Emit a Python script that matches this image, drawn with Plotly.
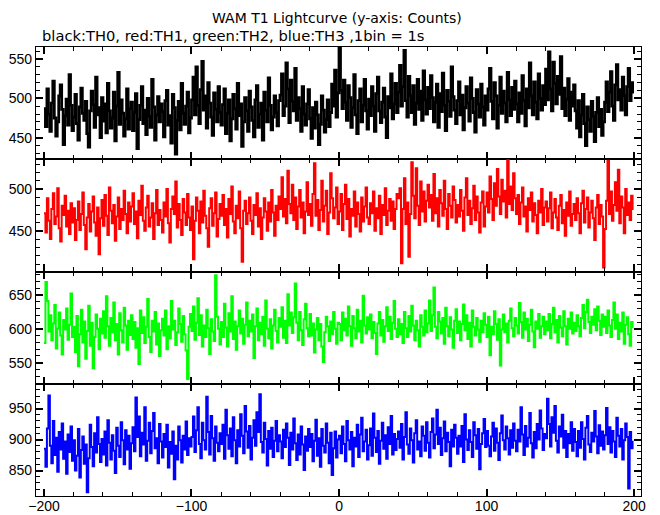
import plotly.graph_objects as go
from plotly.subplots import make_subplots

time_start = -200
n_bins = 400
time_bins = list(range(time_start, time_start + n_bins))

th0_black = [
    487, 464, 512, 480, 458, 494, 522, 475, 452, 470, 503, 517, 486, 441, 478, 499, 466, 530, 491, 459,
    476, 505, 468, 447, 489, 513, 481, 472, 496, 455, 438, 484, 509, 492, 463, 527, 479, 488, 450, 501,
    471, 493, 456, 519, 484, 462, 475, 508, 446, 490, 533, 467, 498, 481, 452, 474, 512, 461, 487, 495,
    459, 482, 506, 436, 473, 491, 515, 468, 485, 454, 500, 477, 463, 524, 489, 447, 479, 502, 470, 493,
    483, 451, 497, 510, 466, 478, 443, 505, 488, 429, 472, 496, 460, 519, 481, 467, 490, 508, 456, 475,
    498, 527, 479, 540, 491, 468, 511, 547, 485, 503, 462, 520, 494, 476, 453, 507, 486, 470, 515, 482,
    466, 492, 512, 455, 481, 498, 446, 474, 505, 487, 461, 519, 478, 493, 439, 470, 501, 484, 458, 509,
    489, 472, 451, 498, 516, 463, 480, 494, 447, 508, 485, 470, 526, 491, 460, 476, 503, 482, 465, 497,
    504, 531, 478, 490, 545, 512, 469, 523, 496, 484, 538, 472, 501, 487, 458, 515, 480, 466, 493, 511,
    474, 449, 488, 462, 495, 479, 441, 467, 503, 485, 457, 473, 498, 464, 482, 518, 490, 536, 476, 507,
    564, 510, 487, 523, 495, 472, 516, 501, 463, 488, 530, 479, 455, 497, 512, 470, 491, 524, 484, 461,
    499, 478, 515, 490, 458, 506, 527, 484, 469, 495, 513, 476, 450, 502, 488, 531, 474, 493, 519, 482,
    508, 542, 490, 515, 561, 497, 476, 528, 503, 482, 516, 467, 494, 524, 486, 509, 472, 535, 498, 480,
    514, 487, 529, 501, 470, 495, 518, 463, 506, 483, 532, 491, 459, 510, 496, 477, 540, 502, 485, 468,
    497, 521, 479, 504, 460, 488, 515, 494, 471, 526, 500, 482, 457, 511, 493, 476, 518, 489, 466, 503,
    485, 512, 538, 496, 474, 520, 503, 462, 491, 527, 481, 509, 494, 470, 533, 498, 478, 514, 486, 522,
    493, 470, 507, 481, 529, 497, 465, 512, 488, 545, 503, 479, 521, 495, 474, 531, 500, 485, 516, 492,
    537, 498, 559, 512, 484, 546, 519, 493, 528, 505, 553, 487, 513, 478, 499, 525, 472, 508, 490, 517,
    484, 462, 497, 451, 479, 505, 468, 440, 489, 473, 458, 496, 477, 445, 482, 501, 464, 486, 453, 470,
    495, 521, 483, 508, 534, 490, 472, 517, 543, 498, 511, 485, 527, 503, 479, 515, 538, 497, 520, 506,
]

th1_red = [
    471, 448, 489, 462, 440, 476, 495, 458, 467, 501, 453, 437, 480, 469, 492, 455, 474, 446, 483, 460,
    477, 439, 463, 485, 451, 470, 496, 457, 428, 466, 482, 449, 473, 491, 460, 444, 478, 422, 465, 487,
    456, 493, 468, 445, 502, 474, 459, 481, 438, 467, 490, 452, 476, 463, 498, 470, 447, 484, 461, 479,
    495, 458, 473, 441, 486, 469, 504, 462, 450, 478, 492, 455, 466, 483, 440, 471, 499, 457, 475, 463,
    448, 484, 467, 500, 459, 436, 476, 491, 470, 509, 454, 482, 463, 445, 488, 472, 457, 494, 466, 451,
    479, 416, 462, 490, 474, 447, 485, 460, 498, 468, 453, 431, 477, 489, 456, 471, 496, 443, 464, 482,
    468, 493, 457, 476, 442, 488, 470, 503, 461, 447, 480, 465, 497, 453, 413, 474, 486, 458, 471, 490,
    462, 446, 481, 469, 495, 455, 477, 440, 466, 489, 473, 450, 484, 461, 499, 472, 444, 480, 463, 491,
    476, 514, 467, 488, 459, 522, 482, 471, 505, 463, 490, 452, 479, 499, 466, 484, 447, 473, 508, 469,
    482, 456, 494, 531, 468, 487, 451, 475, 510, 461, 480, 498, 446, 472, 519, 489, 465, 478, 502, 458,
    473, 494, 451, 482, 505, 464, 488, 443, 476, 468, 497, 455, 484, 470, 449, 490, 461, 479, 502, 466,
    458, 483, 471, 497, 450, 477, 465, 492, 446, 481, 469, 501, 457, 474, 488, 462, 485, 452, 476, 494,
    489, 501, 411, 476, 513, 458, 484, 419, 470, 532, 492, 465, 525, 480, 457, 509, 473, 497, 461, 486,
    505, 478, 493, 462, 518, 471, 489, 455, 499, 483, 468, 510, 476, 452, 494, 480, 466, 503, 487, 460,
    481, 467, 499, 474, 450, 490, 513, 469, 486, 458, 477, 504, 463, 491, 472, 448, 484, 497, 455, 479,
    496, 472, 515, 488, 463, 507, 480, 524, 491, 470, 511, 485, 498, 466, 536, 482, 503, 475, 519, 489,
    470, 493, 458, 484, 502, 467, 479, 449, 489, 475, 496, 461, 483, 469, 447, 486, 472, 500, 457, 478,
    485, 461, 477, 496, 453, 472, 488, 466, 451, 480, 493, 459, 475, 444, 484, 468, 497, 456, 470, 482,
    463, 489, 471, 447, 483, 498, 460, 476, 490, 454, 472, 486, 465, 439, 478, 493, 458, 481, 467, 406,
    452, 486, 534, 470, 497, 462, 481, 508, 474, 523, 459, 491, 478, 447, 500, 469, 484, 463, 492, 475,
]

th2_green = [
    579, 669, 641, 596, 620, 583, 608, 635, 571, 600, 624, 590, 562, 613, 599, 630, 584, 606, 652, 588,
    603, 566, 619, 545, 592, 628, 580, 611, 556, 597, 634, 575, 609, 542, 588, 621, 600, 570, 615, 593,
    626, 587, 648, 604, 575, 616, 595, 639, 583, 607, 562, 623, 598, 580, 631, 605, 569, 612, 591, 620,
    585, 610, 572, 601, 548, 627, 594, 617, 579, 603, 644, 588, 566, 612, 596, 625, 577, 608, 560, 598,
    615, 590, 627, 570, 604, 586, 641, 599, 612, 576, 595, 630, 607, 581, 619, 592, 568, 526, 603, 622,
    597, 633, 584, 609, 645, 591, 620, 574, 605, 588, 628, 601, 563, 614, 596, 582, 679, 618, 600, 577,
    610, 588, 637, 602, 574, 623, 596, 648, 585, 611, 569, 604, 627, 593, 615, 578, 606, 639, 589, 612,
    596, 621, 557, 604, 630, 583, 609, 592, 618, 575, 642, 600, 586, 614, 571, 605, 628, 597, 580, 616,
    603, 632, 587, 612, 579, 651, 605, 624, 594, 617, 667, 609, 583, 625, 598, 576, 614, 637, 601, 589,
    622, 590, 608, 565, 599, 616, 583, 607, 574, 551, 595, 618, 604, 582, 611, 592, 625, 600, 578, 609,
    607, 583, 624, 598, 615, 590, 633, 604, 575, 619, 601, 586, 628, 596, 612, 580, 649, 605, 593, 617,
    599, 621, 586, 610, 594, 563, 608, 625, 590, 613, 581, 604, 632, 597, 618, 585, 609, 641, 600, 588,
    614, 592, 607, 579, 625, 601, 588, 619, 596, 634, 605, 583, 612, 598, 574, 620, 603, 590, 627, 595,
    608, 642, 597, 620, 661, 603, 586, 625, 611, 593, 616, 578, 631, 604, 589, 617, 599, 572, 612, 629,
    594, 611, 583, 607, 636, 598, 620, 585, 609, 574, 627, 603, 590, 616, 599, 581, 612, 595, 623, 606,
    588, 618, 561, 603, 592, 626, 607, 584, 614, 546, 599, 621, 595, 608, 580, 612, 630, 601, 589, 616,
    605, 593, 638, 610, 587, 624, 599, 615, 582, 606, 628, 596, 573, 611, 600, 622, 587, 604, 618, 592,
    611, 598, 622, 586, 607, 631, 595, 613, 580, 619, 602, 589, 626, 604, 577, 615, 600, 624, 593, 609,
    597, 620, 604, 589, 616, 635, 601, 625, 643, 610, 594, 618, 606, 629, 598, 633, 612, 591, 621, 603,
    618, 594, 627, 605, 588, 613, 639, 600, 621, 585, 609, 596, 624, 578, 606, 617, 592, 575, 610, 601,
]

th3_blue = [
    885, 856, 918, 971, 890, 862, 930, 875, 903, 848, 912, 884, 926, 869, 897, 845, 908, 880, 921, 866,
    899, 850, 874, 917, 839, 883, 905, 861, 892, 815, 870, 924, 888, 857, 910, 879, 936, 893, 864, 901,
    876, 913, 858, 931, 895, 868, 907, 882, 846, 919, 890, 872, 928, 899, 860, 915, 884, 906, 853, 894,
    920, 881, 968, 904, 937, 873, 911, 892, 952, 866, 898, 927, 878, 914, 943, 886, 902, 862, 925, 897,
    871, 909, 888, 924, 855, 896, 877, 913, 836, 890, 868, 921, 899, 863, 906, 884, 929, 875, 902, 889,
    904, 937, 880, 915, 952, 893, 870, 927, 899, 884, 969, 912, 876, 938, 902, 866, 921, 895, 881, 910,
    893, 924, 869, 948, 907, 885, 918, 873, 936, 899, 862, 915, 889, 941, 906, 878, 954, 913, 887, 922,
    868, 903, 931, 890, 944, 912, 973, 896, 879, 927, 901, 858, 914, 885, 919, 872, 898, 930, 881, 907,
    897, 870, 916, 888, 926, 903, 859, 911, 884, 934, 894, 867, 908, 876, 921, 892, 851, 905, 882, 917,
    888, 909, 865, 898, 932, 874, 902, 856, 917, 890, 879, 926, 895, 862, 911, 843, 886, 913, 871, 900,
    906, 878, 921, 893, 865, 930, 899, 884, 912, 857, 903, 889, 924, 872, 908, 935, 881, 897, 916, 868,
    891, 918, 874, 942, 903, 880, 914, 861, 898, 927, 885, 907, 869, 920, 893, 938, 876, 909, 883, 901,
    913, 887, 925, 868, 904, 944, 892, 877, 918, 899, 863, 910, 931, 884, 897, 873, 921, 906, 882, 928,
    895, 871, 912, 934, 886, 908, 948, 893, 919, 875, 902, 929, 881, 911, 896, 857, 916, 889, 924, 903,
    877, 906, 889, 922, 864, 941, 900, 883, 915, 896, 872, 928, 907, 885, 917, 852, 893, 910, 933, 888,
    914, 890, 873, 905, 927, 882, 918, 895, 867, 910, 939, 899, 884, 921, 902, 876, 915, 887, 926, 898,
    881, 916, 897, 952, 908, 875, 922, 889, 903, 943, 894, 871, 912, 886, 925, 900, 947, 918, 883, 909,
    902, 966, 925, 889, 936, 911, 954, 898, 879, 921, 905, 940, 887, 914, 872, 909, 894, 928, 882, 917,
    896, 873, 914, 887, 928, 901, 868, 919, 938, 892, 880, 911, 897, 946, 905, 878, 923, 890, 913, 884,
    907, 951, 893, 920, 879, 914, 897, 872, 935, 906, 889, 917, 868, 899, 926, 904, 821, 912, 886, 898,
]

series = [th0_black, th1_red, th2_green, th3_blue]
colors = ["#000000", "#ff0000", "#00ff00", "#0000ff"]
widths = [2.8, 2.0, 2.0, 2.0]
y_ranges = [[422.5, 565.3], [401.2, 535.7], [519.0, 684.6], [809.0, 990.0]]
y_tickvals = [[450, 500, 550], [450, 500], [550, 600, 650], [850, 900, 950]]
x_ticks = [-200, -100, 0, 100, 200]

title_text = "WAM T1 Lightcurve (y-axis: Counts)"
subtitle_text = "black:TH0, red:TH1, green:TH2, blue:TH3 ,1bin = 1s"

fig = make_subplots(rows=4, cols=1, shared_xaxes=True, vertical_spacing=0)

tick_font = dict(family="Liberation Sans, Arial, Helvetica, sans-serif", size=14, color="black")
title_font = dict(family="DejaVu Sans, sans-serif", size=14, color="black")
subtitle_font = dict(family="DejaVu Sans, sans-serif", size=14.7, color="black")

for i, (vals, col, w) in enumerate(zip(series, colors, widths)):
    r = i + 1
    fig.add_trace(go.Scatter(x=time_bins, y=vals, mode="lines",
                             line=dict(color=col, width=w, shape="hv", simplify=False),
                             showlegend=False, hoverinfo="skip"), row=r, col=1)
    fig.update_yaxes(range=y_ranges[i], tickvals=y_tickvals[i], ticks="inside",
                     ticklen=7, tickwidth=1.5, tickcolor="black",
                     showline=True, linecolor="black", linewidth=1.2, mirror="ticks",
                     showgrid=False, zeroline=False, tickfont=tick_font, automargin=False,
                     minor=dict(dtick=10, ticks="inside", ticklen=4, tickcolor="black", tickwidth=1.2, showgrid=False),
                     row=r, col=1)
    fig.update_xaxes(range=[-205.4, 204.7], tickvals=x_ticks, ticks="inside",
                     ticklen=7, tickwidth=1.5, tickcolor="black",
                     showline=True, linecolor="black", linewidth=1.2, mirror="ticks",
                     showgrid=False, zeroline=False, tickfont=tick_font, automargin=False,
                     showticklabels=(r == 4), ticklabelstandoff=-3,
                     minor=dict(tick0=0, dtick=20, ticks="inside", ticklen=4, tickcolor="black", tickwidth=1.2, showgrid=False),
                     row=r, col=1)

# the page body has an 8px default margin, so the figure is sized 652x507
fig.update_layout(
    width=652, height=507,
    margin=dict(l=28, r=19, t=39, b=19),
    paper_bgcolor="white", plot_bgcolor="white",
    font=tick_font,
    annotations=[
        dict(text=title_text, xref="paper", yref="paper", x=0.498, y=1, yshift=29,
             xanchor="center", yanchor="middle", showarrow=False, font=title_font),
        dict(text=subtitle_text, xref="paper", yref="paper", x=0.006, y=1, yshift=12,
             xanchor="left", yanchor="middle", showarrow=False, font=subtitle_font),
    ],
)

fig.write_html("out.html")
